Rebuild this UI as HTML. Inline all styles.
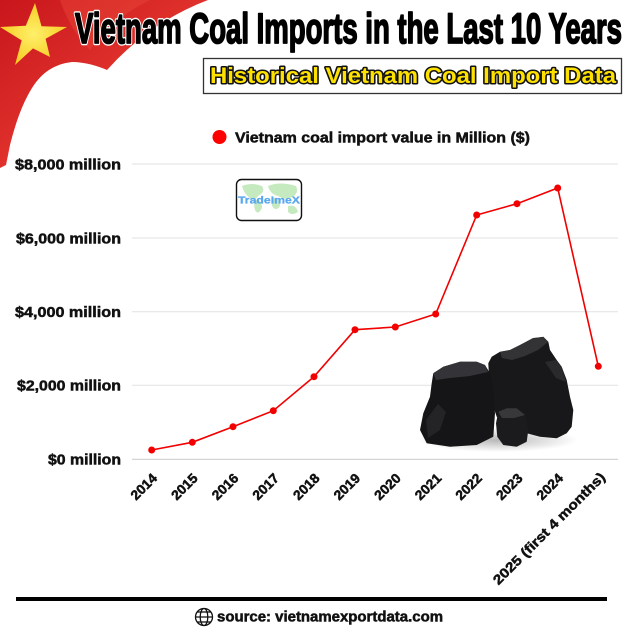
<!DOCTYPE html>
<html><head><meta charset="utf-8"><style>
html,body{margin:0;padding:0;background:#fff;}
svg{display:block;}
text{font-family:"Liberation Sans",sans-serif;font-weight:bold;}
</style></head><body>
<svg width="633" height="633" viewBox="0 0 633 633" xmlns="http://www.w3.org/2000/svg">
<defs>
<linearGradient id="rg" x1="0" y1="0" x2="1" y2="1">
<stop offset="0" stop-color="#c8161c"/><stop offset="0.5" stop-color="#e0312c"/><stop offset="1" stop-color="#c81a1e"/>
</linearGradient>
<radialGradient id="sg" cx="0.5" cy="0.5" r="0.6">
<stop offset="0" stop-color="#fff06a"/><stop offset="1" stop-color="#f5c518"/>
</radialGradient>
<radialGradient id="shd" cx="0.5" cy="0.5" r="0.5">
<stop offset="0" stop-color="#888" stop-opacity="0.6"/><stop offset="1" stop-color="#888" stop-opacity="0"/>
</radialGradient>
</defs>
<rect width="633" height="633" fill="#fff"/>
<!-- flag -->
<path d="M0,0 L208,0 Q150,22 107,70 C98,66 85,62 72,62 C55,64 42,72 32,88 C22,104 15,125 10,145 L6,165 L0,168 Z" fill="url(#rg)"/>
<path d="M60,0 L150,0 Q110,20 90,50 Q70,30 60,0 Z" fill="#e8473a" opacity="0.45"/>
<polygon points="35,3 41.5,26.2 67,27 45.6,38.8 50,57 33,48.4 15,65 21.7,40.4 0,27 25.8,25.8" fill="url(#sg)"/>
<!-- title -->
<text x="75" y="43" font-size="43" textLength="547" lengthAdjust="spacingAndGlyphs" fill="#000" stroke="#fff" stroke-width="4.5" stroke-linejoin="round">Vietnam Coal Imports in the Last 10 Years</text>
<text x="75" y="43" font-size="43" textLength="547" lengthAdjust="spacingAndGlyphs" fill="#000" stroke="#000" stroke-width="1.8" stroke-linejoin="round">Vietnam Coal Imports in the Last 10 Years</text>
<!-- subtitle -->
<rect x="203.5" y="58.5" width="418" height="35" fill="#fff" stroke="#333" stroke-width="1.3"/>
<text x="210" y="83" font-size="22" textLength="406" lengthAdjust="spacingAndGlyphs" fill="#ffe100" stroke="#111" stroke-width="3" paint-order="stroke" stroke-linejoin="round">Historical Vietnam Coal Import Data</text>
<!-- legend -->
<circle cx="219.5" cy="137" r="7" fill="#ff0000"/>
<text x="235" y="142.7" font-size="15" textLength="295" lengthAdjust="spacingAndGlyphs" fill="#111" stroke="#111" stroke-width="0.5">Vietnam coal import value in Million ($)</text>
<!-- grid -->
<g stroke="#e2e2e2" stroke-width="1">
<line x1="132" y1="164" x2="618" y2="164"/>
<line x1="132" y1="238" x2="618" y2="238"/>
<line x1="132" y1="311.7" x2="618" y2="311.7"/>
<line x1="132" y1="385.3" x2="618" y2="385.3"/>
</g>
<line x1="132" y1="459.3" x2="618" y2="459.3" stroke="#cfcfcf" stroke-width="1.2"/>
<!-- y labels -->
<g font-size="14.5" fill="#111" stroke="#111" stroke-width="0.5" text-anchor="end">
<text x="121" y="169.5" textLength="106" lengthAdjust="spacingAndGlyphs">$8,000 million</text>
<text x="121" y="243.5" textLength="105" lengthAdjust="spacingAndGlyphs">$6,000 million</text>
<text x="121" y="317" textLength="106" lengthAdjust="spacingAndGlyphs">$4,000 million</text>
<text x="121" y="390.7" textLength="104" lengthAdjust="spacingAndGlyphs">$2,000 million</text>
<text x="121" y="464.5" textLength="73" lengthAdjust="spacingAndGlyphs">$0 million</text>
</g>
<!-- logo -->
<rect x="236.5" y="179.5" width="65" height="41" rx="5" fill="#fff" stroke="#111" stroke-width="1.4"/>
<g fill="#c6eac0">
<path d="M242,186 Q252,182 262,186 Q266,192 258,196 Q254,202 250,198 Q244,194 242,186 Z"/>
<path d="M256,200 Q262,200 262,208 Q258,216 255,210 Q253,204 256,200 Z"/>
<path d="M268,186 Q280,181 296,186 Q300,194 290,198 Q284,200 278,196 Q270,194 268,186 Z"/>
<path d="M272,198 Q280,198 280,206 Q276,212 272,206 Z"/>
<path d="M288,206 Q296,204 298,212 Q292,216 288,212 Z"/>
</g>
<text x="269" y="203.5" font-size="10.5" text-anchor="middle" textLength="62" lengthAdjust="spacingAndGlyphs" fill="#5aa8ee" stroke="#5aa8ee" stroke-width="0.3">TradeImeX</text>
<!-- coal -->
<ellipse cx="498" cy="440" rx="80" ry="12" fill="url(#shd)"/>
<polygon points="488.3,363.3 491.7,356.7 500,351.7 510,350 520,345 533.3,338.3 543.3,336.7 548.3,341.7 550,350 556.7,360 561.7,366.7 566.7,380 570,396.7 573.3,410 571.7,426.7 566.7,433.3 556.7,438.3 540,436.7 526.7,433.3 510,430 496.7,416.7 490,396.7" fill="#18181a"/>
<polygon points="500,352 510,350 520,345 533,338 543,337 548,342 538,350 525,356 512,360 502,358" fill="#333336"/>
<polygon points="545,362 556,360 562,368 566,382 556,378" fill="#2a2a2d"/>
<polygon points="433.3,373.3 443.3,366.7 460,361.7 476.7,361.7 485,365 490,373.3 493.3,390 495,413.3 493.3,436.7 476.7,445 450,446.7 426.7,443.3 420,430 423.3,413.3 430,396.7 431.7,383.3" fill="#151517"/>
<polygon points="433.3,373.3 443.3,366.7 460,361.7 476.7,361.7 485,365 488,372 470,376 450,378 436,380" fill="#343438"/>
<polygon points="426,420 438,404 446,412 440,430 428,438" fill="#242427"/>
<polygon points="498.3,411.7 506.7,408.3 516.7,408.3 525,415 528.3,430 526.7,441.7 516.7,446.7 503.3,445 497.3,436.7 496,423.3" fill="#1b1b1d"/>
<polygon points="498.3,411.7 506.7,408.3 516.7,408.3 525,415 514,418 502,418" fill="#38383b"/>
<!-- data line -->
<polyline points="151.7,450 192.3,442.3 233,426.7 273.3,410.7 314,376.7 355,329.7 395.3,327 435.7,314 476.7,215 517,203.7 557.7,188 598.3,366.3" fill="none" stroke="#f20000" stroke-width="1.6"/>
<g fill="#f20000">
<circle cx="151.7" cy="450" r="3.5"/><circle cx="192.3" cy="442.3" r="3.5"/><circle cx="233" cy="426.7" r="3.5"/><circle cx="273.3" cy="410.7" r="3.5"/><circle cx="314" cy="376.7" r="3.5"/><circle cx="355" cy="329.7" r="3.5"/><circle cx="395.3" cy="327" r="3.5"/><circle cx="435.7" cy="314" r="3.5"/><circle cx="476.7" cy="215" r="3.5"/><circle cx="517" cy="203.7" r="3.5"/><circle cx="557.7" cy="188" r="3.5"/><circle cx="598.3" cy="366.3" r="3.5"/>
</g>
<!-- x labels -->
<g font-size="13.5" fill="#111" stroke="#111" stroke-width="0.5" text-anchor="end">
<text transform="translate(158,479) rotate(-45)" textLength="31" lengthAdjust="spacingAndGlyphs">2014</text>
<text transform="translate(198.6,479) rotate(-45)" textLength="31" lengthAdjust="spacingAndGlyphs">2015</text>
<text transform="translate(239.3,479) rotate(-45)" textLength="31" lengthAdjust="spacingAndGlyphs">2016</text>
<text transform="translate(279.9,479) rotate(-45)" textLength="31" lengthAdjust="spacingAndGlyphs">2017</text>
<text transform="translate(320.5,479) rotate(-45)" textLength="31" lengthAdjust="spacingAndGlyphs">2018</text>
<text transform="translate(361.1,479) rotate(-45)" textLength="31" lengthAdjust="spacingAndGlyphs">2019</text>
<text transform="translate(401.7,479) rotate(-45)" textLength="31" lengthAdjust="spacingAndGlyphs">2020</text>
<text transform="translate(442.3,479) rotate(-45)" textLength="31" lengthAdjust="spacingAndGlyphs">2021</text>
<text transform="translate(482.9,479) rotate(-45)" textLength="31" lengthAdjust="spacingAndGlyphs">2022</text>
<text transform="translate(523.5,479) rotate(-45)" textLength="31" lengthAdjust="spacingAndGlyphs">2023</text>
<text transform="translate(564,479) rotate(-45)" textLength="31" lengthAdjust="spacingAndGlyphs">2024</text>
<text transform="translate(606,478) rotate(-45)" textLength="152" lengthAdjust="spacingAndGlyphs">2025 (first 4 months)</text>
</g>
<!-- footer -->
<rect x="16" y="597" width="591" height="4" fill="#000"/>
<g fill="none" stroke="#111" stroke-width="1.3">
<circle cx="204" cy="617" r="8.5"/>
<ellipse cx="204" cy="617" rx="3.8" ry="8.5"/>
<line x1="195.5" y1="617" x2="212.5" y2="617"/>
<line x1="197" y1="612" x2="211" y2="612"/>
<line x1="197" y1="622" x2="211" y2="622"/>
</g>
<text x="217" y="621.5" font-size="14.5" textLength="226" lengthAdjust="spacingAndGlyphs" fill="#111" stroke="#111" stroke-width="0.5">source: vietnamexportdata.com</text>
</svg>
</body></html>
